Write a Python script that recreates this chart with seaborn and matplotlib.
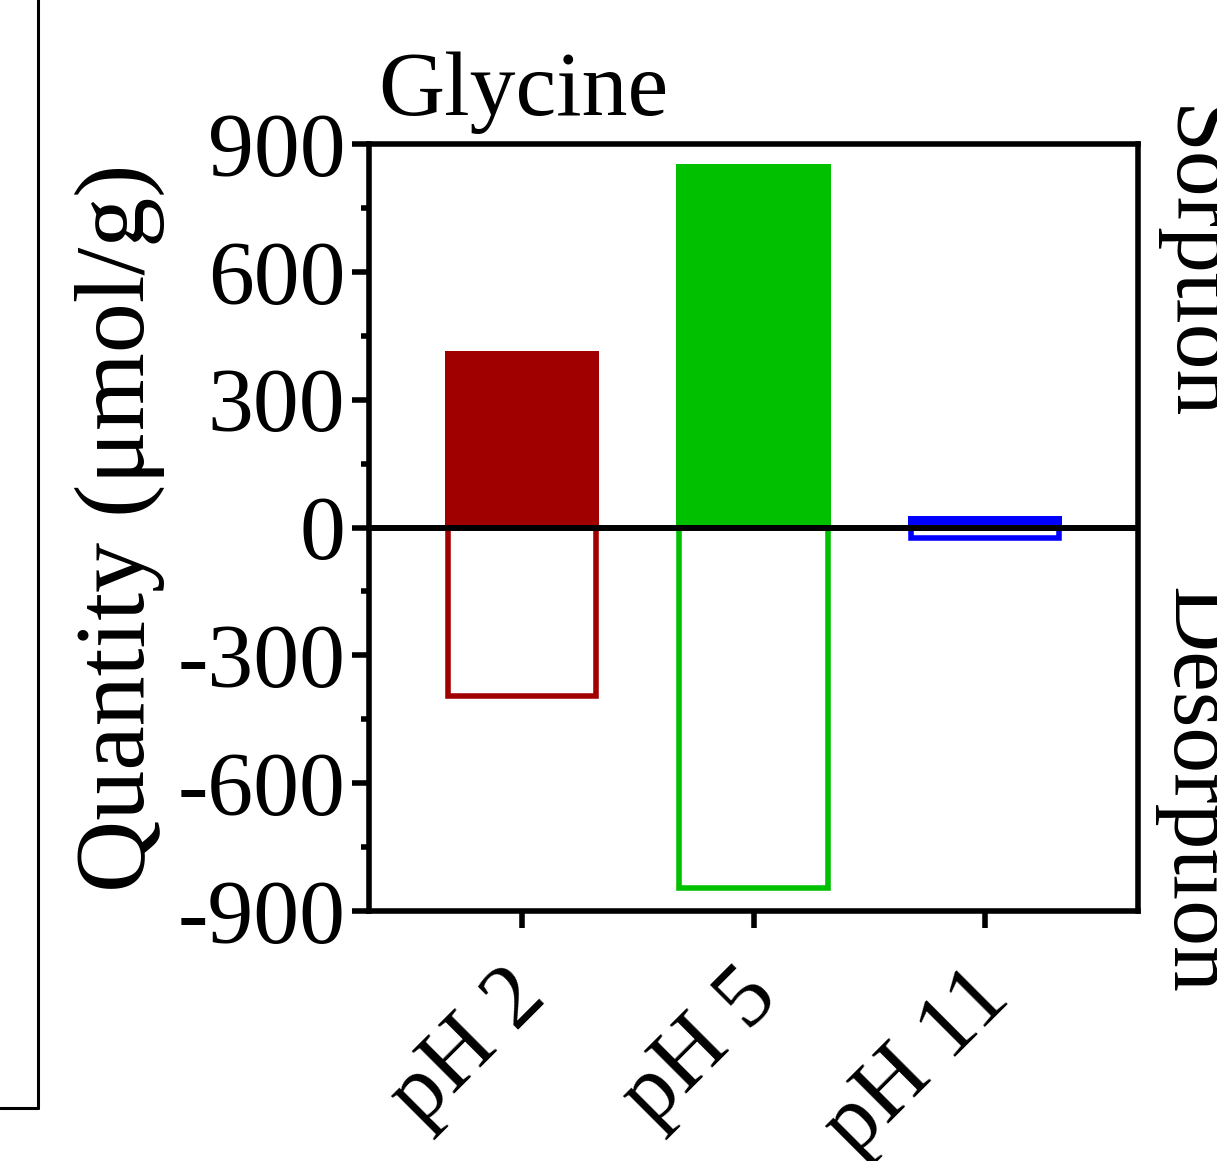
import numpy as np
import pandas as pd
import matplotlib
matplotlib.use('Agg')
import matplotlib.pyplot as plt
from matplotlib.lines import Line2D
from matplotlib.ticker import MultipleLocator
from matplotlib.transforms import ScaledTranslation
import seaborn as sns

# Datos
categorias = ['pH 2', 'pH 5', 'pH 11']
sorcion = [414, 854, 28]
desorcion = [-396, -845, -25]
colores = ['#A00000', '#00C000', '#0000FF']

sns.set_style('ticks')
plt.rcParams['font.family'] = ['Liberation Serif', 'DejaVu Serif']
plt.rcParams['axes.unicode_minus'] = False
plt.rcParams['text.color'] = 'black'
plt.rcParams['axes.labelcolor'] = 'black'
plt.rcParams['xtick.color'] = 'black'
plt.rcParams['ytick.color'] = 'black'

df_s = pd.DataFrame({'cat': categorias, 'val': sorcion})
df_d = pd.DataFrame({'cat': categorias, 'val': desorcion})
paleta = dict(zip(categorias, colores))

fig = plt.figure(figsize=(12.17, 11.61), dpi=100)
ax = fig.add_axes([0.3032, 0.2153, 0.6319, 0.6606])

sns.barplot(data=df_s, x='cat', y='val', hue='cat', palette=paleta, order=categorias,
            width=0.665, linewidth=0, saturation=1, legend=False, ax=ax)
sns.barplot(data=df_d, x='cat', y='val', hue='cat', palette=paleta, order=categorias,
            width=0.64, fill=False, linewidth=4, saturation=1, legend=False, ax=ax)

ax.axhline(0, color='black', lw=4.3, zorder=10)

ax.set_xlim(-0.66, 2.66)
ax.set_ylim(-900, 900)
ax.yaxis.set_major_locator(MultipleLocator(300))
ax.yaxis.set_minor_locator(MultipleLocator(150))

for s in ax.spines.values():
    s.set_linewidth(4)
    s.set_color('black')

ax.tick_params(axis='both', which='major', length=12, width=4, labelsize=66, pad=5)
ax.tick_params(axis='y', which='minor', length=6, width=4)
ax.set_xlabel('')
ax.set_ylabel('Quantity (μmol/g)', fontsize=72)
ax.yaxis.set_label_coords(-0.265, 0.5)

desplaza = ScaledTranslation(-18 / 100, -20 / 100, fig.dpi_scale_trans)
for lab in ax.get_xticklabels():
    lab.set_rotation(45)
    lab.set_ha('right')
    lab.set_rotation_mode('anchor')
    lab.set_transform(lab.get_transform() + desplaza)

ax.text(0.012, (911 - 115) / 767, 'Glycine', transform=ax.transAxes, fontsize=66,
        ha='left', va='baseline')

# Etiquetas del lado derecho
fig.text(1152 / 1217, 1 - 264 / 1161, 'Sorption', rotation=-90, fontsize=66, ha='left', va='center')
fig.text(1152 / 1217, 1 - 790 / 1161, 'Desorption', rotation=-90, fontsize=66, ha='left', va='center')

# Borde del panel vecino
fig.add_artist(Line2D([38 / 1217, 38 / 1217], [1.0, 1 - 1108 / 1161], color='black', lw=2.2))
fig.add_artist(Line2D([0, 38 / 1217], [1 - 1108 / 1161, 1 - 1108 / 1161], color='black', lw=2.2))

fig.savefig('out.png', dpi=100)
